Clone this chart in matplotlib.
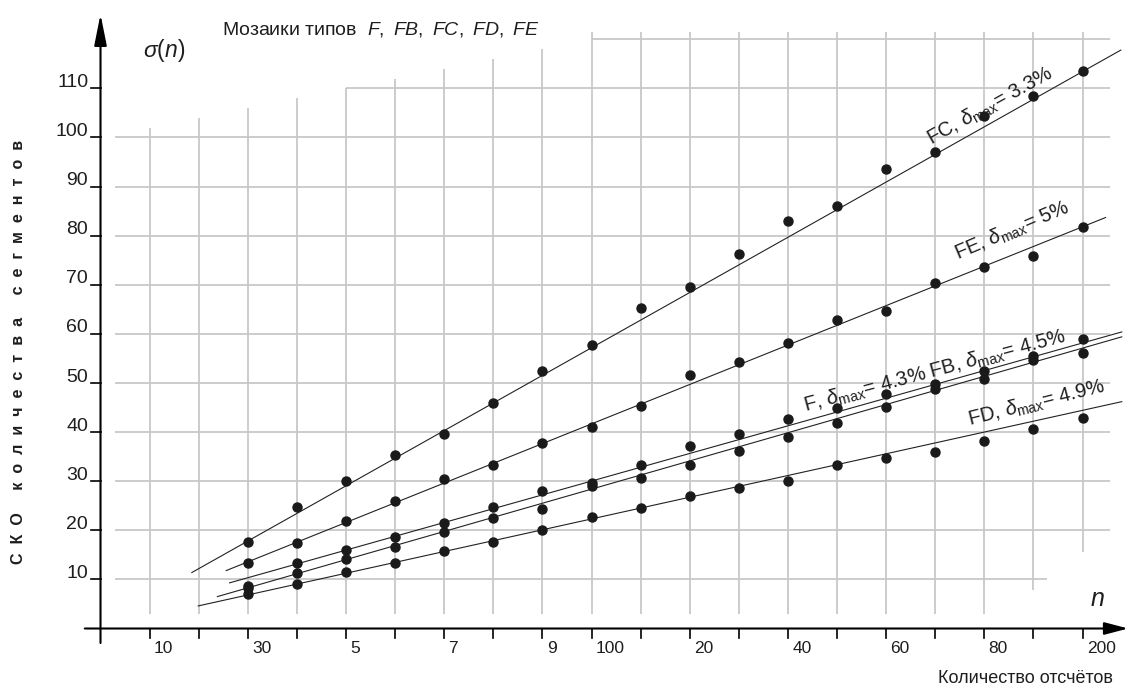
import matplotlib
matplotlib.use('Agg')
import matplotlib.pyplot as plt

plt.rcParams['font.family'] = ['Liberation Sans', 'DejaVu Sans']
plt.rcParams['mathtext.fontset'] = 'custom'
plt.rcParams['mathtext.rm'] = 'Liberation Sans'
plt.rcParams['mathtext.it'] = 'Liberation Sans:italic'
plt.rcParams['mathtext.bf'] = 'Liberation Sans:bold'

# tick slots along the n axis (equally spaced), only some are labelled
tick_slots = list(range(1, 21))
label_slots = [1, 3, 5, 7, 9, 10, 12, 14, 16, 18, 20]
label_text = ['10', '30', '5', '7', '9', '100', '20', '40', '60', '80', '200']
y_ticks = [10, 20, 30, 40, 50, 60, 70, 80, 90, 100, 110]

# measured points sit on slots 3..20
pts_x = list(range(3, 21))
fc = [17.6, 24.8, 30.0, 35.3, 39.7, 45.9, 52.4, 57.8, 65.3, 69.5,
      76.3, 82.9, 86.1, 93.6, 97.0, 104.4, 108.5, 113.5]
fe = [13.4, 17.5, 21.8, 25.9, 30.4, 33.2, 37.8, 41.1, 45.3, 51.6,
      54.3, 58.1, 62.9, 64.7, 70.3, 73.6, 75.9, 81.8]
f = [8.6, 13.3, 15.9, 18.6, 21.4, 24.8, 28.1, 29.6, 33.4, 37.2,
     39.7, 42.6, 44.9, 47.8, 49.7, 52.5, 55.4, 58.9]
fb = [8.2, 11.4, 14.2, 16.5, 19.7, 22.6, 24.4, 29.1, 30.7, 33.2,
      36.1, 38.9, 41.8, 45.2, 48.7, 50.8, 54.7, 56.2]
fd = [7.1, 9.0, 11.5, 13.4, 15.8, 17.7, 20.0, 22.8, 24.5, 26.9,
      28.7, 30.1, 33.2, 34.7, 36.0, 38.1, 40.6, 42.8]

# trend lines: [start slot, end slot], [start value, end value]
fc_trend = ([1.86, 20.78], [11.4, 117.8])
fe_trend = ([2.56, 20.47], [11.8, 83.7])
f_trend = ([2.63, 20.8], [9.3, 60.4])
fb_trend = ([2.38, 20.8], [6.5, 59.4])
fd_trend = ([1.99, 20.8], [4.6, 46.2])

fig = plt.figure(figsize=(11.29, 6.89), dpi=100)
ax = fig.add_axes([0, 0, 1, 1])
ax.set_xlim(-2.047, 20.947)
ax.set_ylim(-12.32, 128.0)
ax.axis('off')

ink = '#1e1e1e'

# grid (stepped top edge like the original)
gkw = dict(color='#c8c8c8', lw=1.3, zorder=1, solid_capstyle='butt')
for v in range(10, 101, 10):
    ax.plot([0.3, 19.28 if v == 10 else 20.55], [v, v], **gkw)
ax.plot([5, 20.55], [110, 110], **gkw)
ax.plot([10, 20.55], [120, 120], **gkw)
for i in tick_slots:
    top = 100 + 2 * i if i < 10 else 121.5
    bottom = {19: 7.8, 20: 15.6}.get(i, 3.0)
    ax.plot([i, i], [bottom, top], **gkw)

# axes with arrows
ax.annotate('', xy=(20.93, 0), xytext=(-0.32, 0),
            arrowprops=dict(arrowstyle='-|>,head_length=1.45,head_width=0.38',
                            color='black', lw=1.5, shrinkA=0, shrinkB=0))
ax.annotate('', xy=(0, 125.1), xytext=(0, -2.95),
            arrowprops=dict(arrowstyle='-|>,head_length=1.9,head_width=0.38',
                            color='black', lw=1.5, shrinkA=0, shrinkB=0))
for i in tick_slots:
    ax.plot([i, i], [0, -2.0], color='black', lw=1.2)
for s, t in zip(label_slots, label_text):
    ax.text(s + 0.09, -5.0, t, ha='left', va='baseline', fontsize=12.5, color=ink)
for v in y_ticks:
    ax.plot([-0.19, 0], [v, v], color='black', lw=1.2)
    ax.text(-0.25, v + 0.3, str(v), ha='right', va='baseline', fontsize=14, color=ink)

# trend lines and points
for tr in [fc_trend, fe_trend, f_trend, fb_trend, fd_trend]:
    ax.plot(tr[0], tr[1], color='#222', lw=0.8, zorder=2)
for ser in [fc, fe, f, fb, fd]:
    ax.plot(pts_x, ser, 'o', color='#1a1a1a', ms=6.5, zorder=3)

# line labels
lkw = dict(ha='center', va='center', fontsize=14.5, rotation_mode='anchor', color=ink)
ax.text(18.12, 106.3, r'FC, $\delta_{\mathrm{max}}$= 3.3%', rotation=29, **lkw)
ax.text(18.57, 81.0, r'FE, $\delta_{\mathrm{max}}$= 5%', rotation=23, **lkw)
ax.text(16.99, 52.3, r'F, $\delta_{\mathrm{max}}$= 4.3% FB, $\delta_{\mathrm{max}}$= 4.5%',
        rotation=15, **lkw)
ax.text(19.06, 46.0, r'FD, $\delta_{\mathrm{max}}$= 4.9%', rotation=14, **lkw)

# titles
ax.text(2.48, 120.9, r'Мозаики типов  $\mathit{F,\ FB,\ FC,\ FD,\ FE}$',
        ha='left', va='baseline', fontsize=14, color=ink)
ax.text(0.87, 116.4, r'$\mathit{\sigma}(\mathit{n})$', ha='left', va='baseline',
        fontsize=16.5, color=ink)
ax.text(20.3, 4.6, r'$\mathit{n}$', ha='center', va='baseline', fontsize=18, color=ink)
ax.text(20.62, -11.1, 'Количество отсчётов', ha='right', va='baseline',
        fontsize=13, color=ink)
ax.text(-1.68, 56.3, '  '.join('СКО') + '     ' + '  '.join('количества') + '     ' + '  '.join('сегментов'),
        rotation=90, ha='center', va='center', fontsize=11.5, fontweight='bold', color=ink)

fig.savefig('out.png', dpi=100)
